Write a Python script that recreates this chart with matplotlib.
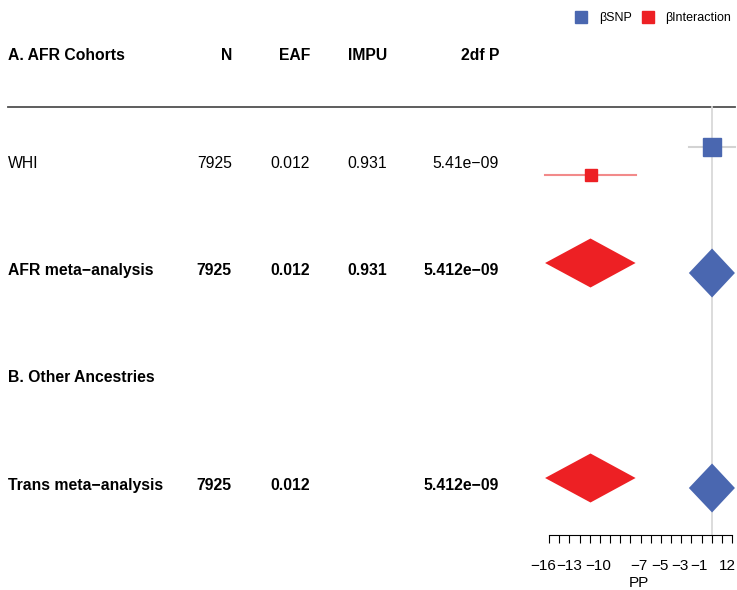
import matplotlib.pyplot as plt
import numpy as np
from matplotlib.patches import Polygon
from matplotlib.lines import Line2D
from matplotlib import rcParams

rcParams['font.family'] = 'sans-serif'
rcParams['font.sans-serif'] = ['Liberation Sans', 'DejaVu Sans']
rcParams['axes.unicode_minus'] = True

# table content
row_labels = ['A. AFR Cohorts', 'WHI', 'AFR meta\u2212analysis', 'B. Other Ancestries', 'Trans meta\u2212analysis']
col_headers = ['N', 'EAF', 'IMPU', '2df P']
col_n = ['', '7925', '7925', '', '7925']
col_eaf = ['', '0.012', '0.012', '', '0.012']
col_impu = ['', '0.931', '0.931', '', '']
col_p = ['', '5.41e\u221209', '5.412e\u221209', '', '5.412e\u221209']
row_bold = [True, False, True, True, True]

# forest values (plot units)
snp_est = [8.95, 8.95, 8.95]
snp_lo = [5.4, 5.4, 5.4]
snp_hi = [12.45, 12.45, 12.45]
int_est = [-9.65, -9.65, -9.65]
int_lo = [-16.6, -16.6, -16.6]
int_hi = [-2.75, -2.75, -2.75]
forest_rows = [1, 2, 4]
is_summary = [False, True, True]
ref_x = 8.95

# ruler ticks and the labels as they sit in the picture
tick_pos = np.linspace(-16, 12, 19)
label_pos = [-16.95, -12.94, -8.43, -2.3, 0.9, 4.0, 6.9, 11.31]
label_text = ['\u221216', '\u221213', '\u221210', '\u22127', '\u22125', '\u22123', '\u22121', '12']

blue = '#4A67B0'
red = '#ED2024'

W, H = 737, 590
fig = plt.figure(figsize=(W / 100, H / 100), dpi=100)

# pixel-like layout for the table part
ax_t = fig.add_axes([0, 0, 1, 1])
ax_t.set_xlim(0, W)
ax_t.set_ylim(H, 0)
ax_t.axis('off')

row_y = [54 + 107.5 * i for i in range(5)]
col_x = [232, 310, 387, 499]
fs = 11.3

for i, lab in enumerate(row_labels):
    w = 'bold' if row_bold[i] else 'normal'
    ty = row_y[i] + 1.5
    ax_t.text(8, ty, lab, fontsize=fs, fontweight=w, va='center', ha='left')
    if i == 0:
        vals = col_headers
    else:
        vals = [col_n[i], col_eaf[i], col_impu[i], col_p[i]]
    for x, v in zip(col_x, vals):
        ax_t.text(x, ty, v, fontsize=fs, fontweight=w, va='center', ha='right')

ax_t.plot([8, 735], [107, 107], color='#505050', lw=1.3)

# forest panel
x0, x1 = 540, 737
ax = fig.add_axes([x0 / W, (H - 535) / H, (x1 - x0) / W, 535 / H])
px = 28 / 183
ax.set_xlim(-16 - (549 - x0) * px, -16 + (x1 - 549) * px)
ax.set_ylim(535, 0)
for s in ['top', 'right', 'left']:
    ax.spines[s].set_visible(False)
ax.spines['bottom'].set_bounds(-16, 12)
ax.spines['bottom'].set_linewidth(0.8)
ax.set_yticks([])
ax.set_xticks(tick_pos)
ax.set_xticklabels([''] * len(tick_pos))
ax.tick_params(axis='x', which='major', direction='out', length=6, width=0.8)
ax.set_xticks(label_pos, minor=True)
ax.set_xticklabels(label_text, minor=True, fontsize=11)
ax.tick_params(axis='x', which='minor', length=0, pad=17)
ax.set_xlabel('PP', fontsize=11, labelpad=2.5)
ax.patch.set_alpha(0)

ax.plot([ref_x, ref_x], [107, 535], color='#D9D9D9', lw=1.3, zorder=0)

for k, r in enumerate(forest_rows):
    y = row_y[r]
    if is_summary[k]:
        yb, yr, h = y + 4, y - 6, 24.5
        ax.add_patch(Polygon([(int_lo[k], yr), (int_est[k], yr - h), (int_hi[k], yr), (int_est[k], yr + h)],
                             closed=True, color=red, lw=0, zorder=3))
        ax.add_patch(Polygon([(snp_lo[k], yb), (snp_est[k], yb - h), (snp_hi[k], yb), (snp_est[k], yb + h)],
                             closed=True, color=blue, lw=0, zorder=3))
    else:
        yb, yr = y - 14.5, y + 13
        ax.plot([snp_lo[k], snp_hi[k]], [yb, yb], color='#D3D3D3', lw=1.5, zorder=2)
        ax.plot(snp_est[k], yb, marker='s', ms=12.5, color=blue, zorder=3)
        ax.plot([int_lo[k], int_hi[k]], [yr, yr], color='#F28A8A', lw=1.5, zorder=2)
        ax.plot(int_est[k], yr, marker='s', ms=8, color=red, zorder=3)

handles = [Line2D([], [], marker='s', ls='', ms=9, color=blue, label='\u03b2SNP'),
           Line2D([], [], marker='s', ls='', ms=9, color=red, label='\u03b2Interaction')]
fig.legend(handles=handles, loc='upper right', bbox_to_anchor=(1.004, 0.994), ncol=2,
           frameon=False, fontsize=9, handletextpad=0.4, columnspacing=0.3,
           borderaxespad=0.3)

fig.savefig('out.png', dpi=100)
